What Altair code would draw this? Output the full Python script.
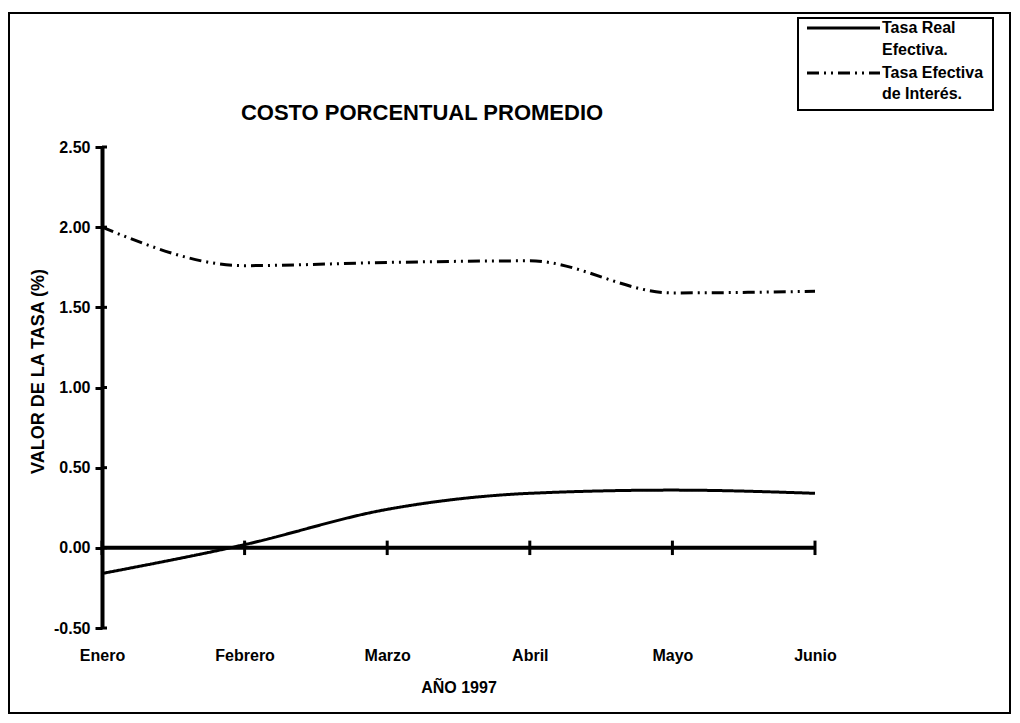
import altair as alt
import pandas as pd

# ---- data ----
months = ["Enero", "Febrero", "Marzo", "Abril", "Mayo", "Junio"]
series_names = ["Tasa Real Efectiva.", "Tasa Efectiva de Interés."]
tasa_real = [-0.16, 0.02, 0.24, 0.34, 0.36, 0.34]
tasa_efectiva = [2.00, 1.76, 1.78, 1.79, 1.59, 1.60]
y_ticks = [-0.5, 0.0, 0.5, 1.0, 1.5, 2.0, 2.5]

title_text = "COSTO PORCENTUAL PROMEDIO"
x_title = "AÑO 1997"
y_title = "VALOR DE LA TASA (%)"

FONT = "Liberation Sans"

df = pd.DataFrame(
    {
        "mes": months * 2,
        "valor": tasa_real + tasa_efectiva,
        "serie": [series_names[0]] * len(months) + [series_names[1]] * len(months),
    }
)
months_df = pd.DataFrame({"mes": months})
ytick_df = pd.DataFrame({"valor": y_ticks})
one = pd.DataFrame({"k": [0]})

W, H = 713, 481

xscale = alt.Scale(type="point", padding=0, domain=months)
yscale = alt.Scale(domain=[-0.5, 2.5], nice=False, zero=False)

dash_range = [[1, 0], [12, 5, 2, 5, 2, 5]]

x_axis = alt.Axis(
    title=x_title,
    domain=False,
    ticks=False,
    labelAngle=0,
    labelAlign="center",
    labelBaseline="top",
    labelPadding=19,
    labelFont=FONT,
    labelFontSize=16,
    labelFontWeight="bold",
    labelColor="black",
    titleFont=FONT,
    titleFontSize=16,
    titleFontWeight="bold",
    titleColor="black",
    titlePadding=16,
    grid=False,
)

y_axis = alt.Axis(
    title=y_title,
    values=y_ticks,
    labelExpr="replace(format(datum.value, '.2f'), '\u2212', '-')",
    domain=True,
    domainColor="black",
    domainWidth=4,
    ticks=True,
    tickColor="black",
    tickWidth=3,
    tickSize=7,
    labelPadding=5,
    labelFont=FONT,
    labelFontSize=16,
    labelFontWeight="bold",
    labelColor="black",
    titleFont=FONT,
    titleFontSize=18,
    titleFontWeight="bold",
    titleColor="black",
    titleAngle=270,
    titleX=-64,
    titleY=224,
    titleAlign="center",
    titleBaseline="middle",
    grid=False,
)

lines = alt.Chart(df).mark_line(
    interpolate="monotone", strokeWidth=3, color="black", clip=False
).encode(
    x=alt.X("mes:N", sort=months, scale=xscale, axis=x_axis),
    y=alt.Y("valor:Q", scale=yscale, axis=y_axis),
    strokeDash=alt.StrokeDash(
        "serie:N", scale=alt.Scale(domain=series_names, range=dash_range), legend=None
    ),
)

zero_line = alt.Chart(one).mark_rule(color="black", strokeWidth=4).encode(
    x=alt.datum("Enero"),
    x2=alt.datum("Junio"),
    y=alt.datum(0),
)

zero_ticks = alt.Chart(months_df).mark_rule(color="black", strokeWidth=3).encode(
    x=alt.X("mes:N", sort=months, scale=xscale, axis=x_axis),
    y=alt.datum(-0.045),
    y2=alt.datum(0.045),
)

# short tick stubs on the right side of the y axis
y_stubs = alt.Chart(ytick_df).mark_rule(color="black", strokeWidth=3).encode(
    x=alt.value(0),
    x2=alt.value(5),
    y=alt.Y("valor:Q", scale=yscale, axis=y_axis),
)

# frame around whole chart
frame = alt.Chart(one).mark_rect(
    filled=False, stroke="black", strokeWidth=2, clip=False
).encode(
    x=alt.value(-93), x2=alt.value(908), y=alt.value(-134), y2=alt.value(566)
)

# title
title = alt.Chart(one).mark_text(
    font=FONT, fontSize=22, fontWeight="bold", color="black",
    align="center", baseline="middle",
).encode(x=alt.value(320), y=alt.value(-34), text=alt.value(title_text))

# manual legend
legend_box = alt.Chart(one).mark_rect(
    filled=True, fill="white", stroke="black", strokeWidth=2
).encode(x=alt.value(696), x2=alt.value(891), y=alt.value(-129), y2=alt.value(-37))

leg_line1 = alt.Chart(one).mark_rule(color="black", strokeWidth=3).encode(
    x=alt.value(705), x2=alt.value(778), y=alt.value(-119)
)
leg_line2 = alt.Chart(one).mark_rule(
    color="black", strokeWidth=3, strokeDash=dash_range[1]
).encode(x=alt.value(705), x2=alt.value(778), y=alt.value(-74))


def leg_text(txt, y):
    return alt.Chart(one).mark_text(
        font=FONT, fontSize=16, fontWeight="bold", color="black",
        align="left", baseline="middle",
    ).encode(x=alt.value(780), y=alt.value(y), text=alt.value(txt))


r1 = series_names[0].split(" ")
r2 = series_names[1].split(" ")
leg_texts = [
    leg_text(" ".join(r1[:2]), -119),
    leg_text(" ".join(r1[2:]), -97),
    leg_text(" ".join(r2[:2]), -74),
    leg_text(" ".join(r2[2:]), -53),
]

chart = alt.layer(
    lines, zero_ticks, y_stubs, zero_line, frame, title,
    legend_box, leg_line1, leg_line2, *leg_texts
).properties(
    width=W,
    height=H,
    background="white",
    autosize=alt.AutoSizeParams(type="none"),
    padding={"left": 94, "top": 139, "right": 196, "bottom": 87},
).configure_view(stroke=None)

chart.save("out.html", embed_options={"renderer": "svg", "actions": False})
